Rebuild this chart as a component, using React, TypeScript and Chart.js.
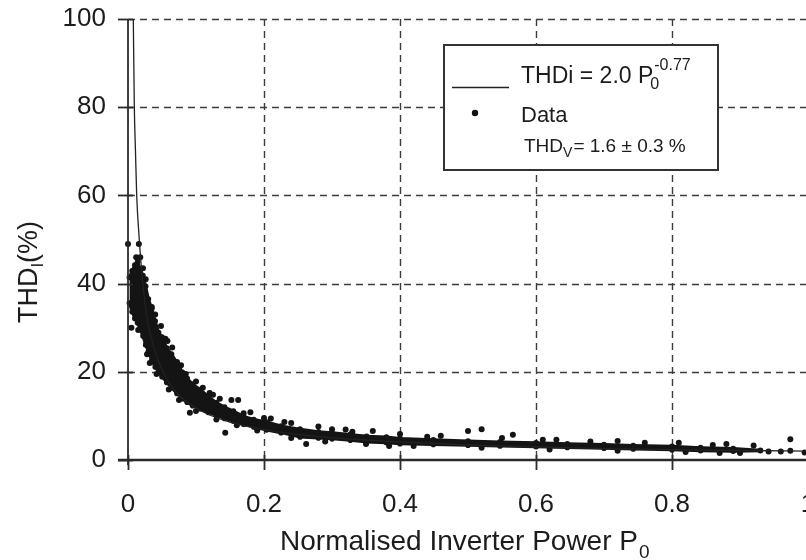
import React, { useEffect, useRef } from 'react';
import { Chart, registerables } from 'chart.js';

Chart.register(...registerables);

const FONT = '"Liberation Sans", Arial, Helvetica, sans-serif';

// Axis ticks
const xTickValues = [0, 0.2, 0.4, 0.6, 0.8, 1];
const xTickLabels = ['0', '0.2', '0.4', '0.6', '0.8', '1'];
const yTickValues = [0, 20, 40, 60, 80, 100];
const yTickLabels = ['0', '20', '40', '60', '80', '100'];

// Fitted curve THDi = 2.0 P0^-0.77
const fitX = [0.0078, 0.0093, 0.011, 0.0128, 0.0166, 0.02, 0.025, 0.03, 0.04, 0.05, 0.06, 0.08, 0.1, 0.12, 0.15, 0.2, 0.25, 0.3, 0.4, 0.5, 0.6, 0.7, 0.8, 0.9, 1.0];
const fitY = [100, 80, 70, 60, 50, 43, 35.5, 30.5, 24.6, 20.5, 17.5, 14, 11.8, 10.2, 8.6, 6.9, 5.8, 5.0, 4.1, 3.4, 2.95, 2.6, 2.35, 2.15, 2.0];

// Dense measurement cloud: upper and lower edge of the data band
const bandX = [0.002, 0.006, 0.010, 0.014, 0.018, 0.022, 0.026, 0.030, 0.035, 0.040, 0.045, 0.050, 0.057, 0.064, 0.072, 0.080, 0.087, 0.095, 0.106, 0.118, 0.130, 0.142, 0.155, 0.170, 0.185, 0.204, 0.225, 0.253, 0.280, 0.300, 0.327, 0.351, 0.380, 0.400, 0.449, 0.500, 0.547, 0.600, 0.646, 0.700, 0.743, 0.800, 0.842, 0.890, 0.930];
const bandUpper = [41.4, 42.9, 44.2, 44.9, 43.3, 41.8, 39.4, 36.5, 34.3, 31.5, 28.9, 27.9, 25.4, 24.0, 22.1, 19.9, 18.5, 17.2, 16.0, 14.4, 13.0, 12.0, 11.1, 9.9, 9.2, 8.6, 7.7, 7.0, 6.4, 6.2, 5.8, 5.4, 5.2, 4.9, 4.6, 4.3, 4.1, 3.9, 3.7, 3.5, 3.3, 3.1, 2.8, 2.6, 2.2];
const bandLower = [35.6, 33.6, 32.1, 31.1, 29.6, 28.1, 26.1, 24.6, 22.6, 21.1, 19.9, 18.9, 17.6, 16.4, 15.1, 13.9, 13.1, 12.3, 11.6, 10.8, 10.1, 9.4, 8.8, 8.1, 7.5, 6.8, 6.2, 5.2, 5.0, 4.8, 4.5, 4.1, 3.9, 3.7, 3.5, 3.35, 3.2, 3.0, 2.85, 2.65, 2.5, 2.3, 2.1, 2.0, 2.1];

// Individual scattered measurements (outliers and ragged band edges)
const dataX = [
  0.0, 0.016, 0.018, 0.022, 0.005, 0.035, 0.0485, 0.085, 0.072, 0.032, 0.12, 0.152, 0.162, 0.091, 0.143, 0.17, 0.262, 0.30, 0.36, 0.50,
  0.52, 0.566, 0.384, 0.974, 0.974, 0.942, 0.995, 0.96, 0.90, 0.33, 0.44, 0.61, 0.68, 0.76, 0.86, 0.012, 0.026, 0.058, 0.11, 0.2,
  0.23, 0.04, 0.055, 0.065, 0.078, 0.1, 0.125, 0.135, 0.18, 0.21, 0.24, 0.28, 0.32, 0.4, 0.46, 0.55, 0.63, 0.72, 0.81, 0.88,
  0.92, 0.015, 0.028, 0.042, 0.06, 0.075, 0.1, 0.13, 0.16, 0.19, 0.24, 0.29, 0.35, 0.42, 0.52, 0.62, 0.72, 0.82, 0.87,
];
const dataY = [
  49, 49, 46, 43.5, 30, 34.7, 30.4, 19.5, 22.2, 22, 15.2, 13.6, 13.6, 10.7, 6.2, 10.6, 3.6, 7.0, 6.6, 6.6,
  7.0, 5.7, 3.2, 4.7, 2.1, 1.9, 1.7, 1.9, 1.6, 6.4, 5.3, 4.6, 4.2, 3.9, 3.4, 46, 41, 27, 16.4, 9.5,
  8.6, 33, 27.5, 25.5, 21.5, 17.8, 14.8, 13.9, 10.8, 9.4, 8.4, 7.6, 6.9, 5.9, 5.5, 5.0, 4.6, 4.3, 3.9, 3.6,
  3.3, 29.5, 24, 19.5, 16, 13.6, 11.1, 9.2, 7.9, 6.7, 5.0, 4.2, 3.6, 3.2, 2.8, 2.4, 2.1, 1.8, 1.6,
];

const xTitle = 'Normalised Inverter Power P';
const xTitleSub = '0';
const yTitle = 'THD';
const yTitleSub = 'I';
const yTitleTail = '(%)';
const legendFit = 'THDi = 2.0 P';
const legendFitSub = '0';
const legendFitSup = '-0.77';
const legendData = 'Data';
const legendNote = 'THD';
const legendNoteSub = 'V';
const legendNoteTail = '= 1.6 \u00b1 0.3 %';

const GRID_X = [0.2, 0.4, 0.6, 0.8, 1.0];
const GRID_Y = [20, 40, 60, 80, 100];

function font(size: number) {
  return `${size}px ${FONT}`;
}

const decorPlugin = {
  id: 'decor',
  beforeDatasetsDraw(chart: any) {
    const { ctx, chartArea: a, scales } = chart;
    const x = scales.x;
    const y = scales.y;
    ctx.save();
    ctx.strokeStyle = '#3c3c3c';
    ctx.lineWidth = 1.4;
    ctx.setLineDash([7, 5]);
    for (const v of GRID_X) {
      const px = Math.round(x.getPixelForValue(v)) + 0.5;
      ctx.beginPath();
      ctx.moveTo(px, a.top);
      ctx.lineTo(px, a.bottom);
      ctx.stroke();
    }
    for (const v of GRID_Y) {
      const py = Math.round(y.getPixelForValue(v)) + 0.5;
      ctx.beginPath();
      ctx.moveTo(a.left, py);
      ctx.lineTo(a.right, py);
      ctx.stroke();
    }
    ctx.restore();
  },
  afterDatasetsDraw(chart: any) {
    const { ctx, chartArea: a, scales } = chart;
    const x = scales.x;
    const y = scales.y;
    ctx.save();
    ctx.setLineDash([]);
    ctx.strokeStyle = '#2a2a2a';
    // left axis
    ctx.lineWidth = 1.8;
    ctx.beginPath();
    ctx.moveTo(a.left, a.top);
    ctx.lineTo(a.left, a.bottom + 5);
    ctx.stroke();
    // bottom axis
    ctx.lineWidth = 2.6;
    ctx.beginPath();
    ctx.moveTo(a.left - 10, a.bottom);
    ctx.lineTo(a.right, a.bottom);
    ctx.stroke();
    // ticks
    ctx.lineWidth = 1.8;
    for (const v of yTickValues) {
      const py = Math.round(y.getPixelForValue(v)) + 0.5;
      ctx.beginPath();
      ctx.moveTo(a.left - 10, py);
      ctx.lineTo(a.left + 5, py);
      ctx.stroke();
    }
    for (const v of xTickValues) {
      const px = Math.round(x.getPixelForValue(v)) + 0.5;
      ctx.beginPath();
      ctx.moveTo(px, a.bottom - 5);
      ctx.lineTo(px, a.bottom + 10);
      ctx.stroke();
    }

    // legend box
    ctx.fillStyle = '#ffffff';
    ctx.fillRect(444, 45, 274, 125);
    ctx.strokeStyle = '#333';
    ctx.lineWidth = 2;
    ctx.strokeRect(444, 45, 274, 125);
    ctx.strokeStyle = '#222';
    ctx.lineWidth = 1.5;
    ctx.beginPath();
    ctx.moveTo(452, 87.5);
    ctx.lineTo(509, 87.5);
    ctx.stroke();
    ctx.fillStyle = '#111';
    ctx.beginPath();
    ctx.arc(475, 113, 3.2, 0, Math.PI * 2);
    ctx.fill();

    ctx.fillStyle = '#1c1c1c';
    ctx.textBaseline = 'alphabetic';
    ctx.textAlign = 'left';
    ctx.font = font(23);
    ctx.fillText(legendFit, 521, 83);
    let w = ctx.measureText(legendFit).width;
    ctx.font = font(16);
    ctx.fillText(legendFitSub, 521 + w - 3, 89);
    ctx.fillText(legendFitSup, 521 + w + 1, 70);
    ctx.font = font(22);
    ctx.fillText(legendData, 521, 122);
    ctx.font = font(19);
    ctx.fillText(legendNote, 524, 152);
    w = ctx.measureText(legendNote).width;
    ctx.font = font(14);
    ctx.fillText(legendNoteSub, 524 + w, 157);
    const w2 = ctx.measureText(legendNoteSub).width;
    ctx.font = font(19);
    ctx.fillText(legendNoteTail, 524 + w + w2 + 1, 152);

    // x title
    ctx.font = font(28);
    const tw = ctx.measureText(xTitle).width;
    const cx = 459;
    ctx.fillText(xTitle, cx - tw / 2, 550);
    ctx.font = font(19);
    ctx.fillText(xTitleSub, cx + tw / 2 + 1, 558);

    // y title
    ctx.save();
    ctx.translate(37, 272);
    ctx.rotate(-Math.PI / 2);
    ctx.font = font(27);
    const w1 = ctx.measureText(yTitle).width;
    const w3 = ctx.measureText(yTitleTail).width;
    ctx.font = font(17);
    const ws = ctx.measureText(yTitleSub).width;
    const total = w1 + ws + w3;
    let sx = -total / 2;
    ctx.font = font(27);
    ctx.fillText(yTitle, sx, 0);
    sx += w1;
    ctx.font = font(17);
    ctx.fillText(yTitleSub, sx, 6);
    sx += ws;
    ctx.font = font(27);
    ctx.fillText(yTitleTail, sx, 0);
    ctx.restore();

    ctx.restore();
  },
};

export default function App() {
  const ref = useRef<HTMLCanvasElement | null>(null);
  useEffect(() => {
    if (!ref.current) return;
    const band = (ys: number[]) => bandX.map((v, i) => ({ x: v, y: ys[i] }));
    const chart = new Chart(ref.current, {
      type: 'scatter',
      data: {
        datasets: [
          {
            label: 'fit',
            data: fitX.map((v, i) => ({ x: v, y: fitY[i] })),
            showLine: true,
            borderColor: '#222',
            borderWidth: 1.3,
            pointRadius: 0,
            cubicInterpolationMode: 'monotone',
          } as any,
          {
            label: 'band-lower',
            data: band(bandLower),
            showLine: true,
            borderColor: '#141414',
            borderWidth: 3,
            pointRadius: 2.8,
            pointBackgroundColor: '#141414',
            pointBorderWidth: 0,
            backgroundColor: '#141414',
            fill: false,
            clip: false,
          } as any,
          {
            label: 'band-upper',
            data: band(bandUpper),
            showLine: true,
            borderColor: '#141414',
            borderWidth: 3,
            pointRadius: 2.8,
            pointBackgroundColor: '#141414',
            pointBorderWidth: 0,
            backgroundColor: '#141414',
            fill: '-1',
            clip: false,
          } as any,
          {
            label: 'Data',
            data: dataX.map((v, i) => ({ x: v, y: dataY[i] })),
            pointRadius: 3,
            pointBackgroundColor: '#141414',
            pointBorderWidth: 0,
            clip: false,
          } as any,
        ],
      },
      options: {
        animation: false,
        responsive: false,
        events: [],
        layout: { padding: { left: 0, right: 22, top: 19, bottom: 0 } },
        plugins: { legend: { display: false }, title: { display: false }, tooltip: { enabled: false } },
        scales: {
          x: {
            type: 'linear',
            min: 0,
            max: 1,
            afterBuildTicks: (s: any) => {
              s.ticks = xTickValues.map((v) => ({ value: v }));
            },
            afterFit: (s: any) => {
              s.height = 100;
              s.paddingLeft = 0;
              s.paddingRight = 0;
              s.paddingTop = 0;
              s.paddingBottom = 0;
            },
            grid: { display: false, drawTicks: false },
            border: { display: false },
            ticks: {
              autoSkip: false,
              maxRotation: 0,
              padding: 29,
              color: '#1c1c1c',
              font: { family: FONT, size: 26 },
              callback: (_v: any, i: number) => xTickLabels[i],
            },
          },
          y: {
            type: 'linear',
            min: 0,
            max: 100,
            afterBuildTicks: (s: any) => {
              s.ticks = yTickValues.map((v) => ({ value: v }));
            },
            afterFit: (s: any) => {
              s.width = 128;
              s.paddingTop = 0;
              s.paddingBottom = 0;
              s.paddingLeft = 0;
              s.paddingRight = 0;
            },
            grid: { display: false, drawTicks: false },
            border: { display: false },
            ticks: {
              autoSkip: false,
              padding: 22,
              color: '#1c1c1c',
              font: { family: FONT, size: 26 },
              callback: (_v: any, i: number) => yTickLabels[i],
            },
          },
        },
      },
      plugins: [decorPlugin],
    });
    return () => chart.destroy();
  }, []);
  return (
    <div style={{ position: 'absolute', left: 0, top: 0, width: 806, height: 560, overflow: 'hidden', background: '#fff' }}>
      <canvas ref={ref} width={830} height={560} style={{ width: 830, height: 560, display: 'block' }} />
    </div>
  );
}
